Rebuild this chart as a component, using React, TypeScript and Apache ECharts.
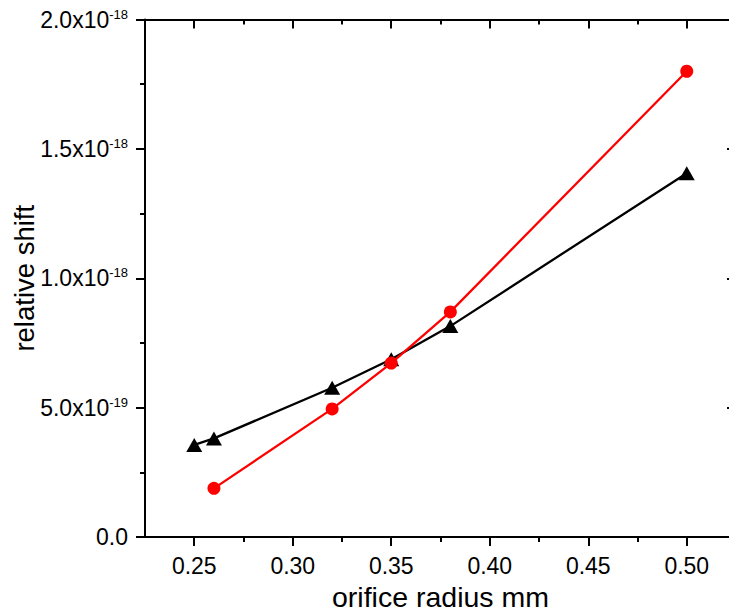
import React, { useEffect, useRef } from "react";
import * as echarts from "echarts";

// x values (orifice radius, mm)
const redX = [0.26, 0.32, 0.35, 0.38, 0.5];
// relative shift, in units of 1e-18
const redY = [0.188, 0.495, 0.672, 0.87, 1.8];
const blackX = [0.25, 0.26, 0.32, 0.35, 0.38, 0.5];
const blackY = [0.356, 0.381, 0.577, 0.687, 0.815, 1.406];

const xMajorTicks = [0.25, 0.3, 0.35, 0.4, 0.45, 0.5];
const xMinorTicks = [0.275, 0.325, 0.375, 0.425, 0.475];
const xTickLabels = ["0.25", "0.30", "0.35", "0.40", "0.45", "0.50"];
const yTickMantissa = ["0.0", "5.0", "1.0", "1.5", "2.0"];
const yTickExponent = ["", "-19", "-18", "-18", "-18"];

const FONT = "Liberation Sans, Arial, sans-serif";

export default function App() {
  const ref = useRef<HTMLDivElement>(null);
  useEffect(() => {
    if (!ref.current) return;
    const chart = echarts.init(ref.current, undefined, { renderer: "svg" });
    const axisLine = { show: true, lineStyle: { color: "#000", width: 2 } };
    const xBase = { type: "value", min: 0.225, max: 0.525, splitLine: { show: false } };
    const yBase = { type: "value", min: 0, max: 2, interval: 0.5, splitLine: { show: false } };
    chart.setOption({
      animation: false,
      backgroundColor: "#fff",
      grid: { left: 145, right: -7, top: 19.5, bottom: 75, containLabel: false, outerBoundsMode: "none" },
      xAxis: [
        {
          ...xBase,
          position: "bottom",
          name: "orifice radius mm",
          nameLocation: "middle",
          nameGap: 45,
          nameMoveOverlap: false,
          nameTextStyle: { fontSize: 28.5, fontFamily: FONT, color: "#000" },
          axisLine,
          axisTick: {
            show: true,
            customValues: xMajorTicks,
            length: 9,
            lineStyle: { color: "#000", width: 2 },
          },
          axisLabel: {
            customValues: xMajorTicks,
            formatter: (v: number) => {
              const i = xMajorTicks.findIndex((t) => Math.abs(t - v) < 1e-6);
              return i >= 0 ? xTickLabels[i] : "";
            },
            fontSize: 23,
            fontFamily: FONT,
            color: "#000",
            margin: 17,
          },
        },
        {
          ...xBase,
          position: "bottom",
          axisLine: { show: false },
          axisTick: {
            show: true,
            customValues: xMinorTicks,
            length: 5,
            lineStyle: { color: "#000", width: 2 },
          },
          axisLabel: { show: false },
        },
        {
          ...xBase,
          position: "top",
          axisLine,
          axisTick: {
            show: true,
            inside: true,
            customValues: xMajorTicks,
            length: 9,
            lineStyle: { color: "#000", width: 2 },
          },
          axisLabel: { show: false },
        },
        {
          ...xBase,
          position: "top",
          axisLine: { show: false },
          axisTick: {
            show: true,
            inside: true,
            customValues: xMinorTicks,
            length: 5,
            lineStyle: { color: "#000", width: 2 },
          },
          axisLabel: { show: false },
        },
      ],
      yAxis: [
        {
          ...yBase,
          position: "left",
          name: "relative shift",
          nameLocation: "middle",
          nameGap: 107,
          nameMoveOverlap: false,
          nameTextStyle: { fontSize: 27.5, fontFamily: FONT, color: "#000" },
          axisLine,
          axisTick: { show: true, length: 9, lineStyle: { color: "#000", width: 2 } },
          minorTick: { show: true, splitNumber: 2, length: 5, lineStyle: { color: "#000", width: 2 } },
          axisLabel: {
            margin: 17,
            formatter: (v: number) => {
              const i = Math.round(v / 0.5);
              const e = yTickExponent[i];
              return e ? `{b|${yTickMantissa[i]}x10}{s|${e}}` : `{b|${yTickMantissa[i]}}`;
            },
            rich: {
              b: { fontSize: 23, fontFamily: FONT, color: "#000" },
              s: { fontSize: 13, fontFamily: FONT, color: "#000", padding: [0, 0, 11, 0] },
            },
          },
        },
        {
          ...yBase,
          position: "right",
          axisLine,
          axisTick: { show: true, inside: true, length: 9, lineStyle: { color: "#000", width: 2 } },
          minorTick: { show: true, splitNumber: 2, length: 5, lineStyle: { color: "#000", width: 2 } },
          axisLabel: { show: false },
        },
      ],
      series: [
        {
          type: "line",
          xAxisIndex: 0,
          yAxisIndex: 0,
          data: blackX.map((x, i) => [x, blackY[i]]),
          symbol: "triangle",
          symbolSize: [16, 14],
          lineStyle: { color: "#000", width: 2.3 },
          itemStyle: { color: "#000" },
          z: 2,
        },
        {
          type: "line",
          xAxisIndex: 0,
          yAxisIndex: 0,
          data: redX.map((x, i) => [x, redY[i]]),
          symbol: "circle",
          symbolSize: 13,
          lineStyle: { color: "#ff0000", width: 2.3 },
          itemStyle: { color: "#ff0000" },
          z: 3,
        },
      ],
    });
    return () => chart.dispose();
  }, []);
  return <div ref={ref} style={{ width: 729, height: 612, position: "absolute", left: 0, top: 0 }} />;
}
